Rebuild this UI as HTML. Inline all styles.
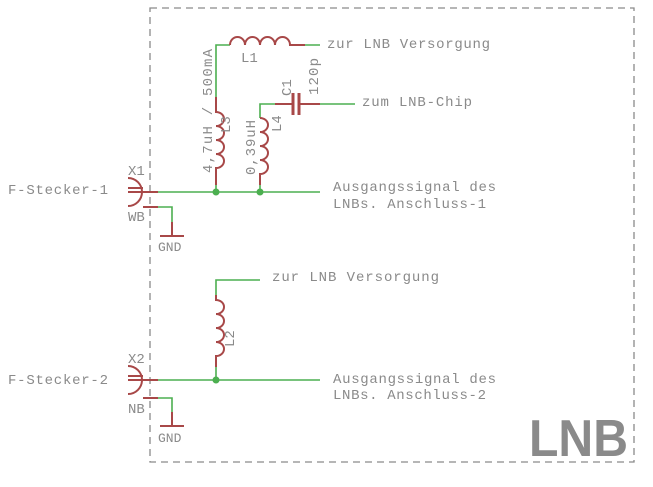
<!DOCTYPE html>
<html><head><style>body{margin:0;background:#fff}svg{display:block}text{font-family:"Liberation Mono",monospace;fill:#8a8a8a;font-size:14px}</style></head><body>
<svg width="653" height="487" viewBox="0 0 653 487">
<rect x="150" y="8" width="484" height="454" fill="none" stroke="#8a8a8a" stroke-width="1.3" stroke-dasharray="7,5"/>
<g fill="none" stroke-width="2">
<g stroke="#4caf50" stroke-width="1.6">
<path d="M158 192H320M158 207H172V222M216 185V192M260 185V192M216 97V45H230M305 45H320M260 118V104H275M320 104H355"/>
<path d="M158 380H320M158 398H172V412M216 367V380M216 295V280H260"/>
</g>
<g stroke="#a84848">
<path d="M143 192H158M143 207H158M128 188H143M128 192H143M172 222V236M160 236H184"/>
<path d="M128 178A14 14 0 0 1 128 206"/>
<path d="M143 380H158M143 398H158M128 376H143M128 380H143M172 412V426M160 426H184"/>
<path d="M128 366A14 14 0 0 1 128 394"/>
<path d="M216 97V112 a8 7 0 0 1 0 14 a8 7 0 0 1 0 14 a8 7 0 0 1 0 14 a8 7 0 0 1 0 14 V185"/>
<path d="M260 118 a8 7 0 0 1 0 14 a8 7 0 0 1 0 14 a8 7 0 0 1 0 14 a8 7 0 0 1 0 14 V185"/>
<path d="M230 45 a7.5 8 0 0 1 15 0 a7.5 8 0 0 1 15 0 a7.5 8 0 0 1 15 0 a7.5 8 0 0 1 15 0 H305"/>
<path d="M275 104H293M298 104H320"/>
<path d="M293 93V115M299 93V115" stroke-width="3"/>
<path d="M216 295V300 a8 7 0 0 1 0 14 a8 7 0 0 1 0 14 a8 7 0 0 1 0 14 a8 7 0 0 1 0 14 V367"/>
</g>
</g>
<g fill="#4caf50"><circle cx="216" cy="192" r="3.5"/><circle cx="260" cy="192" r="3.5"/><circle cx="216" cy="380" r="3.5"/></g>
<text x="8" y="194" textLength="100">F-Stecker-1</text>
<text x="8" y="384" textLength="100">F-Stecker-2</text>
<text x="128" y="175">X1</text><text x="128" y="221">WB</text>
<text x="128" y="363">X2</text><text x="128" y="413">NB</text>
<text x="158" y="251" style="font-size:13px">GND</text><text x="158" y="442" style="font-size:13px">GND</text>
<text x="327" y="48" textLength="163">zur LNB Versorgung</text>
<text x="272" y="281" textLength="167">zur LNB Versorgung</text>
<text x="362" y="106" textLength="110">zum LNB-Chip</text>
<text x="333" y="191" textLength="163">Ausgangssignal des</text>
<text x="333" y="208" textLength="153">LNBs. Anschluss-1</text>
<text x="333" y="383" textLength="163">Ausgangssignal des</text>
<text x="333" y="399" textLength="153">LNBs. Anschluss-2</text>
<text x="241" y="62">L1</text>
<text transform="translate(212,173) rotate(-90)" textLength="124">4,7uH / 500mA</text>
<text transform="translate(230,133) rotate(-90)">L3</text>
<text transform="translate(255,175) rotate(-90)" textLength="55">0,39uH</text>
<text transform="translate(281,132) rotate(-90)">L4</text>
<text transform="translate(291,96) rotate(-90)">C1</text>
<text transform="translate(318,95) rotate(-90)" textLength="37">120p</text>
<text transform="translate(234,347) rotate(-90)">L2</text>
<text x="529" y="456" textLength="99" lengthAdjust="spacingAndGlyphs" style="font-family:'Liberation Sans',sans-serif;font-size:52px;font-weight:bold;fill:#8a8a8a">LNB</text>
</svg>
</body></html>
